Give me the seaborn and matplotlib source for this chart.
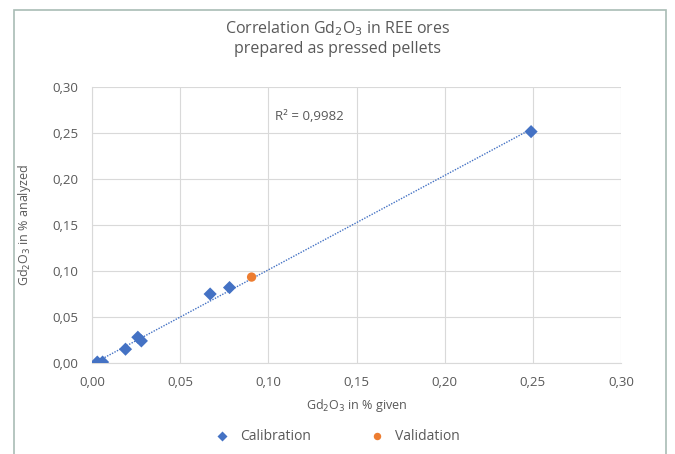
import numpy as np
import pandas as pd
import matplotlib
matplotlib.use("Agg")
import matplotlib.pyplot as plt
import seaborn as sns
from matplotlib.ticker import FuncFormatter, MultipleLocator
from matplotlib.patches import Rectangle

# Data
cal_given = [0.003, 0.006, 0.019, 0.026, 0.028, 0.067, 0.078, 0.249]
cal_analyzed = [0.001, 0.001, 0.015, 0.028, 0.024, 0.075, 0.082, 0.2515]
val_given = [0.0905]
val_analyzed = [0.0934]
r2_label = "R² = 0,9982"

sns.set_theme(style="white")
plt.rcParams['font.family'] = ['Open Sans', 'DejaVu Sans']

grey = "#595959"
blue = "#4472C4"
orange = "#ED7D31"

fig = plt.figure(figsize=(6.75, 4.54), dpi=100)
ax = fig.add_axes([92/675, 1-363/454, (621-92)/675, (363-87)/454])

df = pd.DataFrame({
    "given": cal_given + val_given,
    "analyzed": cal_analyzed + val_analyzed,
    "set": ["Calibration"] * len(cal_given) + ["Validation"] * len(val_given),
})

# Trendline for calibration data
coef = np.polyfit(cal_given, cal_analyzed, 1)
xs = np.array([min(cal_given), max(cal_given)])
ax.plot(xs, np.polyval(coef, xs), linestyle=(0, (1, 1)), color=blue, lw=1.0, zorder=2)

sns.scatterplot(data=df, x="given", y="analyzed", hue="set", style="set",
                palette={"Calibration": blue, "Validation": orange},
                markers={"Calibration": "D", "Validation": "o"},
                s=45, edgecolor="none", ax=ax, zorder=3)

ax.set_xlim(0, 0.30)
ax.set_ylim(0, 0.30)
ax.xaxis.set_major_locator(MultipleLocator(0.05))
ax.yaxis.set_major_locator(MultipleLocator(0.05))
fmt = FuncFormatter(lambda v, p: f"{v:.2f}".replace(".", ","))
ax.xaxis.set_major_formatter(fmt)
ax.yaxis.set_major_formatter(fmt)
ax.tick_params(axis="both", labelsize=9.5, colors=grey, length=0)
ax.tick_params(axis="y", pad=10)
ax.tick_params(axis="x", pad=9)
ax.grid(True, color="#d9d9d9", lw=0.8)
for side, sp in ax.spines.items():
    if side in ("left", "bottom"):
        sp.set_color("#d9d9d9")
        sp.set_linewidth(0.8)
    else:
        sp.set_visible(False)

ax.set_xlabel("Gd$_2$O$_3$ in % given", color=grey, fontsize=9, labelpad=6)
ax.set_ylabel("Gd$_2$O$_3$ in % analyzed", color=grey, fontsize=9, labelpad=14)

ax.text(0.1035, 0.268, r2_label, color=grey, fontsize=9.5, va="center", ha="left")

fig.text(338/675, 1-38/454, "Correlation Gd$_2$O$_3$ in REE ores\nprepared as pressed pellets",
         ha="center", va="center", color=grey, fontsize=11.5, linespacing=1.25)

handles, labels = ax.get_legend_handles_labels()
ax.get_legend().remove()
leg = fig.legend(handles, labels, loc="center", bbox_to_anchor=(334/675, 1-437/454),
                 ncol=2, frameon=False, fontsize=10, handletextpad=0.3,
                 columnspacing=3.8, markerscale=0.8)
for t in leg.get_texts():
    t.set_color(grey)

fig.patches.append(Rectangle((14/675, -0.05), (666-14)/675, 1.05 - 10/454,
                             transform=fig.transFigure, fill=False,
                             edgecolor="#a9bcb5", lw=1.2))

fig.savefig("out.png", dpi=100)
